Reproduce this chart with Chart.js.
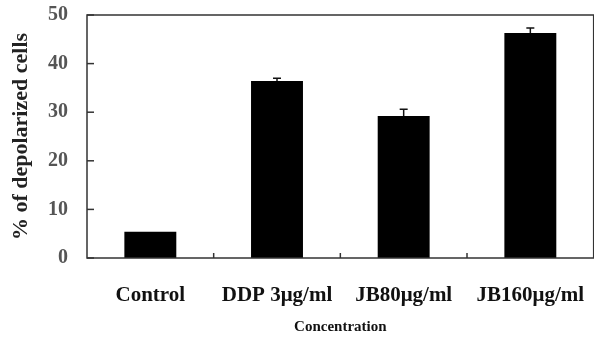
<!DOCTYPE html>
<html>
<head>
<meta charset="utf-8">
<script src="https://cdn.jsdelivr.net/npm/chart.js@4"></script>
<style>
  html, body { margin: 0; padding: 0; background: #fff; overflow: hidden; }
  #wrap { width: 610px; height: 337px; }
</style>
</head>
<body>
<div id="wrap"><canvas id="chart"></canvas></div>
<script>
// Data
const categories = ['Control', 'DDP 3μg/ml', 'JB80μg/ml', 'JB160μg/ml'];
const depolarized = [5.4, 36.4, 29.2, 46.3];
const errors = [0, 0.6, 1.4, 1.0];
const yTicks = [0, 10, 20, 30, 40, 50];

const serif = '"Liberation Serif", "Times New Roman", serif';

// error bars, inner tick marks and the frame
const extras = {
    id: 'extras',
    afterDatasetsDraw(chart) {
        const ctx = chart.ctx;
        const area = chart.chartArea;
        const x = chart.scales.x;
        const y = chart.scales.y;
        const meta = chart.getDatasetMeta(0);

        ctx.save();
        ctx.strokeStyle = '#111';
        ctx.lineWidth = 1.5;
        meta.data.forEach((bar, i) => {
            if (!errors[i]) return;
            const top = y.getPixelForValue(depolarized[i] + errors[i]);
            const base = y.getPixelForValue(depolarized[i]);
            ctx.beginPath();
            ctx.moveTo(bar.x, base);
            ctx.lineTo(bar.x, top);
            ctx.moveTo(bar.x - 4, top);
            ctx.lineTo(bar.x + 4, top);
            ctx.stroke();
        });

        // frame
        ctx.strokeStyle = '#333';
        ctx.lineWidth = 1.5;
        ctx.strokeRect(area.left, area.top, area.right - area.left, area.bottom - area.top);

        // inward ticks on y
        yTicks.forEach(v => {
            const py = y.getPixelForValue(v);
            ctx.beginPath();
            ctx.moveTo(area.left, py);
            ctx.lineTo(area.left + 7, py);
            ctx.stroke();
        });
        // inward ticks on x, between categories
        for (let i = 0; i < categories.length - 1; i++) {
            const px = x.getPixelForValue(i + 0.5);
            ctx.beginPath();
            ctx.moveTo(px, area.bottom);
            ctx.lineTo(px, area.bottom - 5);
            ctx.stroke();
        }
        ctx.restore();
    }
};

new Chart(document.getElementById('chart'), {
    type: 'bar',
    data: {
        labels: categories,
        datasets: [{
            data: depolarized,
            backgroundColor: '#000',
            borderColor: '#000',
            barPercentage: 0.41,
            categoryPercentage: 1.0
        }]
    },
    options: {
        responsive: true,
        maintainAspectRatio: false,
        animation: false,
        layout: { padding: { top: 15, right: 7, left: 0, bottom: 0 } },
        plugins: { legend: { display: false }, tooltip: { enabled: false } },
        scales: {
            x: {
                grid: { display: false, drawTicks: false },
                border: { display: false },
                ticks: {
                    color: '#111',
                    padding: 25,
                    maxRotation: 0,
                    autoSkip: false,
                    font: { family: serif, size: 21, weight: 'bold' }
                },
                title: {
                    display: true,
                    text: 'Concentration',
                    color: '#111',
                    padding: { top: 6, bottom: 1 },
                    font: { family: serif, size: 15, weight: 'bold' }
                },
                afterFit(scale) { scale.height = 79; }
            },
            y: {
                min: 0,
                max: 50,
                grid: { display: false, drawTicks: false },
                border: { display: false },
                afterBuildTicks(scale) { scale.ticks = yTicks.map(v => ({ value: v })); },
                ticks: {
                    color: '#555',
                    padding: 19,
                    font: { family: serif, size: 20, weight: 'bold' }
                },
                title: {
                    display: true,
                    text: '% of depolarized cells',
                    color: '#222',
                    padding: { top: 8, bottom: 0 },
                    font: { family: serif, size: 22, weight: 'bold' }
                },
                afterFit(scale) {
                    scale.width = 87;
                    scale.paddingTop = 0;
                    scale.paddingBottom = 0;
                }
            }
        }
    },
    plugins: [extras]
});
</script>
</body>
</html>
